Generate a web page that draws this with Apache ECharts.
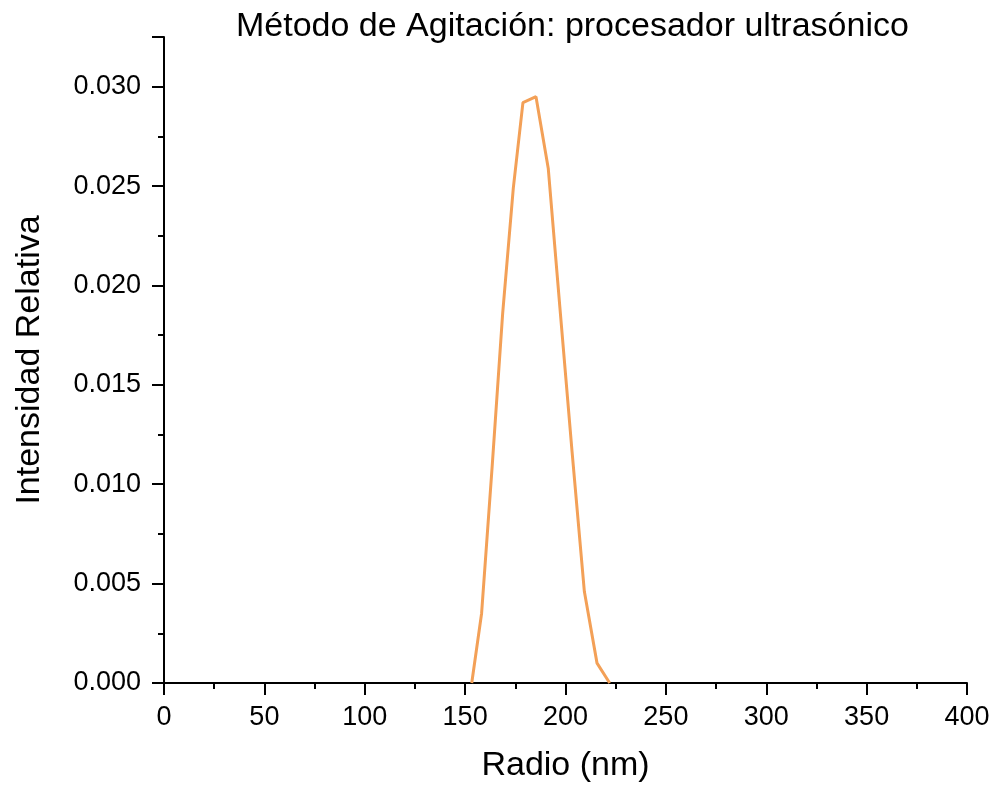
<!DOCTYPE html>
<html>
<head>
<meta charset="utf-8">
<script src="https://cdn.jsdelivr.net/npm/echarts@6/dist/echarts.min.js"></script>
<style>html,body{margin:0;padding:0;background:#fff}#c{width:994px;height:788px}</style>
</head>
<body>
<div id="c"></div>
<script>
const radius = [153.3, 158.2, 163.4, 168.7, 174.0, 178.8, 185.3, 191.4, 197.2, 203.3, 209.4, 215.7, 222.0];
const intensity = [0.0000, 0.0035, 0.0108, 0.0186, 0.0249, 0.0292, 0.0295, 0.0259, 0.0189, 0.0116, 0.0046, 0.0010, 0.0000];
const titleText = 'Método de Agitación: procesador ultrasónico';
const xName = 'Radio (nm)';
const yName = 'Intensidad Relativa';

const font = 'Liberation Sans, Arial, sans-serif';
const chart = echarts.init(document.getElementById('c'));
chart.setOption({
  backgroundColor: '#fff',
  animation: false,
  title: {
    text: titleText, left: 231, top: 5,
    textStyle: {fontFamily: font, fontSize: 34, fontWeight: 'normal', color: '#000'}
  },
  grid: {left: 164, right: 27, top: 37, bottom: 102},
  xAxis: {
    type: 'value', min: 0, max: 400, interval: 50,
    name: xName, nameLocation: 'middle', nameGap: 66,
    nameTextStyle: {fontFamily: font, fontSize: 34, color: '#000'},
    axisLine: {onZero: false, lineStyle: {color: '#000', width: 2}},
    axisTick: {show: true, inside: false, length: 12, lineStyle: {color: '#000', width: 2}},
    minorTick: {show: true, splitNumber: 2, length: 6, lineStyle: {color: '#000', width: 2}},
    axisLabel: {fontFamily: font, fontSize: 27, color: '#000', margin: 21},
    splitLine: {show: false}
  },
  yAxis: {
    type: 'value', min: 0, max: 0.0325, interval: 0.005,
    name: yName, nameLocation: 'middle', nameGap: 117, nameRotate: 90,
    nameTextStyle: {fontFamily: font, fontSize: 34, color: '#000'},
    axisLine: {show: true, onZero: false, lineStyle: {color: '#000', width: 2}},
    axisTick: {show: true, inside: false, length: 12, lineStyle: {color: '#000', width: 2}},
    minorTick: {show: true, splitNumber: 2, length: 6, lineStyle: {color: '#000', width: 2}},
    axisLabel: {fontFamily: font, fontSize: 27, color: '#000', margin: 23,
      formatter: v => v.toFixed(3),
      showMaxLabel: false},
    splitLine: {show: false}
  },
  series: [{
    type: 'line',
    data: radius.map((r, i) => [r, intensity[i]]),
    symbol: 'none',
    lineStyle: {color: '#F3A057', width: 3},
    itemStyle: {color: '#F3A057'}
  }]
});
</script>
</body>
</html>
